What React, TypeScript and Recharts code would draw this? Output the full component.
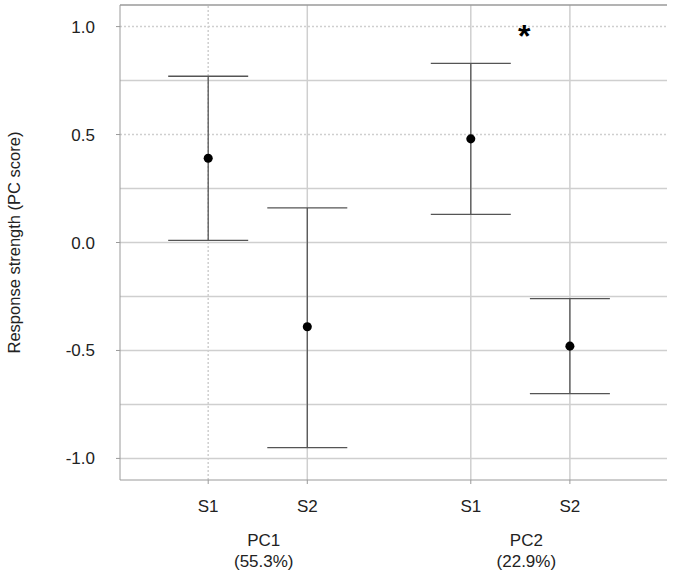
import {
  ComposedChart,
  Scatter,
  ErrorBar,
  XAxis,
  YAxis,
  ReferenceLine,
  ReferenceDot,
} from "recharts";

// samples along the x axis (numeric positions leave a gap between the two PCs)
const samples = ["S1", "S2", "S1", "S2"];
const xPos = [1, 2, 3.65, 4.65];
const means = [0.39, -0.39, 0.48, -0.48];
const lower = [0.01, -0.95, 0.13, -0.7];
const upper = [0.77, 0.16, 0.83, -0.26];

// group labels under the samples
const groups = ["PC1", "PC2"];
const groupVariance = ["(55.3%)", "(22.9%)"];
const groupCenters = [1.5, 4.15];

const yTicks = [-1, -0.5, 0, 0.5, 1];
const gridValues = [-1, -0.75, -0.5, -0.25, 0, 0.25, 0.5, 0.75, 1];
const dottedGrid = [0.5, 1];

// significance marker above PC2
const sigMarker = { x: 4.19, y: 0.96, text: "*" };

const FONT = "'Liberation Sans', Arial, sans-serif";
const GRID = "#cfcfcf";
const FRAME = "#9a9a9a";

const points = xPos.map((x, i) => ({
  x,
  mean: means[i],
  err: [means[i] - lower[i], upper[i] - means[i]],
}));

function GroupTick(props: any) {
  const { x, y, payload } = props;
  const i = groupCenters.indexOf(payload.value);
  return (
    <text
      x={x + 6}
      y={y}
      textAnchor="middle"
      fontSize={17}
      fontFamily={FONT}
      fill="#222"
    >
      <tspan x={x + 6} dy={18}>
        {groups[i]}
      </tspan>
      <tspan x={x + 6} dy={21}>
        {groupVariance[i]}
      </tspan>
    </text>
  );
}

function YLabel(props: any) {
  const { viewBox } = props;
  const cx = viewBox.x + 14;
  const cy = viewBox.y + viewBox.height / 2;
  return (
    <text
      x={cx}
      y={cy}
      transform={`rotate(-90 ${cx} ${cy})`}
      textAnchor="middle"
      dominantBaseline="central"
      fontSize={16.5}
      fontFamily={FONT}
      fill="#222"
    >
      Response strength (PC score)
    </text>
  );
}

export default function App() {
  return (
    <div style={{ position: "absolute", left: 0, top: 0, background: "#fff" }}>
      <ComposedChart
        width={673}
        height={575}
        data={points}
        margin={{ top: 5, right: 6, bottom: 0, left: 0 }}
      >
        <XAxis
          dataKey="x"
          type="number"
          domain={[0.11, 5.63]}
          allowDataOverflow
          ticks={xPos}
          tickFormatter={(v: number) => samples[xPos.indexOf(v)]}
          height={40}
          tickSize={4}
          tickMargin={16}
          stroke={FRAME}
          tick={{ fill: "#222", fontSize: 17, fontFamily: FONT }}
        />
        <XAxis
          xAxisId="grp"
          dataKey="x"
          type="number"
          domain={[0.11, 5.63]}
          allowDataOverflow
          ticks={groupCenters}
          height={55}
          axisLine={false}
          tickLine={false}
          tick={<GroupTick />}
        />
        <YAxis
          type="number"
          domain={[-1.1, 1.1]}
          allowDataOverflow
          ticks={yTicks}
          tickFormatter={(v: number) => v.toFixed(1)}
          width={120}
          tickSize={4}
          tickMargin={21}
          stroke={FRAME}
          tick={{ fill: "#222", fontSize: 17, fontFamily: FONT }}
          label={<YLabel />}
        />
        {gridValues.map((v) => (
          <ReferenceLine
            key={"h" + v}
            y={v}
            stroke={GRID}
            strokeWidth={1.5}
            strokeDasharray={dottedGrid.includes(v) ? "2 2" : undefined}
          />
        ))}
        {xPos.map((v, i) => (
          <ReferenceLine
            key={"v" + v}
            x={v}
            stroke={GRID}
            strokeWidth={1.5}
            strokeDasharray={i === 0 ? "2 2" : undefined}
          />
        ))}
        <ReferenceLine y={1.1} stroke={FRAME} strokeWidth={1.5} />
        <Scatter
          dataKey="mean"
          fill="#000"
          isAnimationActive={false}
        >
          <ErrorBar
            dataKey="err"
            direction="y"
            width={40}
            stroke="#555"
            strokeWidth={1.3}
          />
        </Scatter>
        <ReferenceDot
          x={sigMarker.x}
          y={sigMarker.y}
          r={0}
          fill="none"
          stroke="none"
          label={{
            value: sigMarker.text,
            position: "center",
            fontSize: 32,
            fontWeight: "bold",
            fill: "#000",
            fontFamily: FONT,
          }}
        />
      </ComposedChart>
    </div>
  );
}
